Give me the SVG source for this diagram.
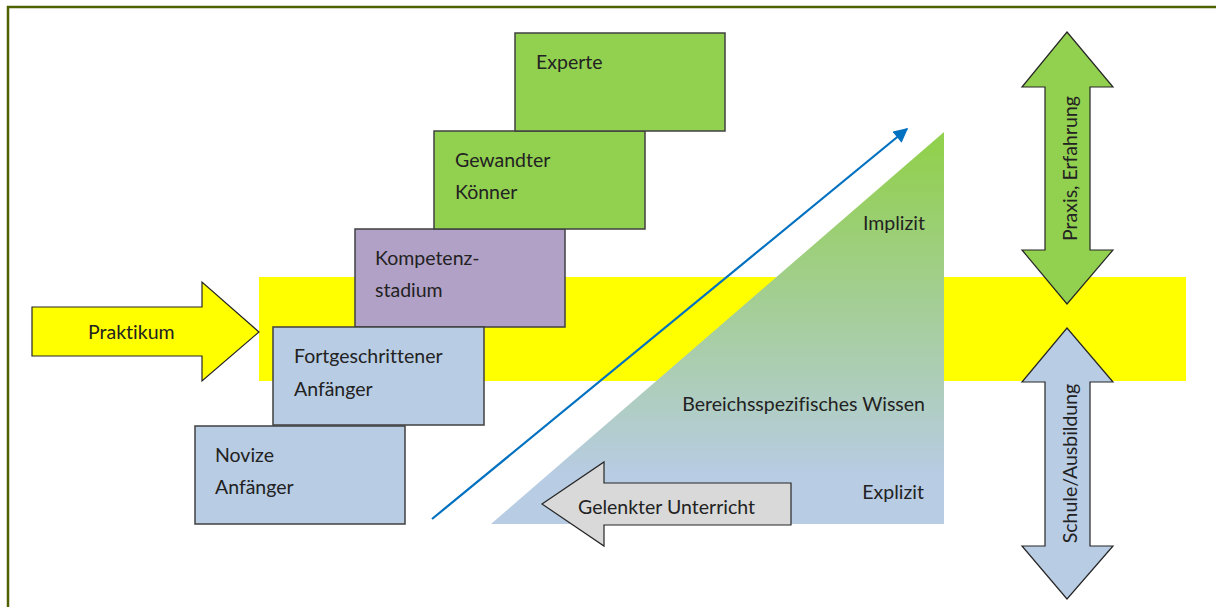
<svg xmlns="http://www.w3.org/2000/svg" width="1216" height="607" viewBox="0 0 1216 607">
<style>
text{font-family:Lato,"Liberation Sans",sans-serif;font-size:19.5px;fill:#222;font-variant-ligatures:none;font-feature-settings:"liga" 0}
.box{stroke:#404040;stroke-width:1.5}
.blue{fill:#b8cce4}
.green{fill:#92d050}
.purple{fill:#b2a1c7}
.arr{stroke:#262626;stroke-width:1.2}
</style>
<defs>
<linearGradient id="tri" x1="0" y1="0" x2="0" y2="1">
<stop offset="0" stop-color="#92d050"/>
<stop offset="0.05" stop-color="#92d050"/>
<stop offset="0.88" stop-color="#b8cce4"/>
<stop offset="1" stop-color="#b8cce4"/>
</linearGradient>
<marker id="ah" viewBox="0 0 10 10" refX="9" refY="5" markerWidth="7" markerHeight="6.5" orient="auto" markerUnits="strokeWidth">
<path d="M0,0 L10,5 L0,10 z" fill="#0070c0"/>
</marker>
</defs>
<rect width="1216" height="607" fill="#fff"/>
<path d="M8,607 V7 H1216" fill="none" stroke="#4f6200" stroke-width="2.5"/>
<rect id="band" x="259" y="277" width="927" height="104" fill="#ffff00"/>
<g id="knowledge">
<path d="M491,524 L944,132 L944,524 Z" fill="url(#tri)"/>
<text x="925" y="230" text-anchor="end">Implizit</text>
<text x="925" y="411" text-anchor="end">Bereichsspezifisches Wissen</text>
<text x="924" y="499" text-anchor="end">Explizit</text>
</g>
<g id="novize">
<rect class="box blue" x="195" y="426" width="210" height="98"/>
<text x="215" y="462">Novize</text>
<text x="215" y="494">Anfänger</text>
</g>
<g id="kompetenz">
<rect class="box purple" x="355" y="229" width="210" height="98"/>
<text x="375" y="265">Kompetenz-</text>
<text x="375" y="297">stadium</text>
</g>
<g id="fortgeschrittener">
<rect class="box blue" x="273" y="327" width="211" height="98"/>
<text x="294" y="363">Fortgeschrittener</text>
<text x="294" y="396">Anfänger</text>
</g>
<g id="gewandter">
<rect class="box green" x="434" y="131" width="211" height="98"/>
<text x="455" y="167">Gewandter</text>
<text x="455" y="199">Könner</text>
</g>
<g id="experte">
<rect class="box green" x="515" y="33" width="210" height="98"/>
<text x="536" y="69">Experte</text>
</g>
<g id="praktikum">
<path class="arr" d="M32,307 H202 V282 L259,332 L202,381 V356 H32 Z" fill="#ffff00"/>
<text x="88" y="339">Praktikum</text>
</g>
<g id="gelenkter">
<path class="arr" d="M542,504 L604,462 V483 H791 V525 H604 V546 Z" fill="#d9d9d9"/>
<text x="578" y="514">Gelenkter Unterricht</text>
</g>
<g id="praxis">
<path class="arr" d="M1067,32 L1113,87 H1090 V250 H1113 L1067,304 L1022,250 H1045 V87 H1022 Z" fill="#92d050"/>
<text transform="translate(1077,168.5) rotate(-90)" text-anchor="middle">Praxis, Erfahrung</text>
</g>
<g id="schule">
<path class="arr" d="M1067,328 L1113,382 H1090 V546 H1113 L1067,599 L1022,546 H1045 V382 H1022 Z" fill="#b8cce4"/>
<text transform="translate(1077,463.5) rotate(-90)" text-anchor="middle">Schule/Ausbildung</text>
</g>
<g id="connectors">
<line x1="432" y1="519" x2="907" y2="129" stroke="#0070c0" stroke-width="2.2" marker-end="url(#ah)"/>
</g>
</svg>
